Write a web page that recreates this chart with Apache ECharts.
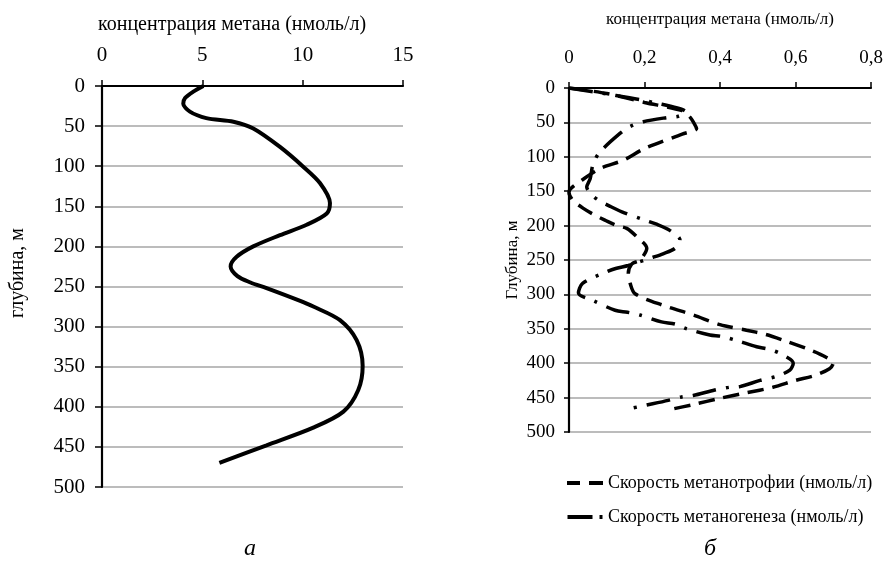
<!DOCTYPE html>
<html>
<head>
<meta charset="utf-8">
<script src="https://cdn.jsdelivr.net/npm/echarts@6/dist/echarts.min.js"></script>
<style>html,body{margin:0;padding:0;background:#fff}#c{width:886px;height:571px}</style>
</head>
<body>
<div id="c"></div>
<script>
// Left panel (а): methane concentration vs depth
const concX     = [5.05, 4.55, 4.14, 4.05, 4.38, 5.2, 6.55, 7.54, 8.87, 10.0, 10.86, 11.36, 11.2, 10.2, 8.87, 7.54, 6.71, 6.41, 6.75, 7.4, 8.2, 9.78, 10.53, 11.86, 12.69, 12.99, 12.77, 12.03, 10.53, 8.2, 5.85];
const concDepth = [0, 7, 15, 22, 32, 40, 44.5, 53, 76, 100, 121, 146, 159, 173, 186, 200, 213, 225, 237, 245, 252, 267, 275, 292, 317, 349, 379, 406, 426, 448, 470];

// Right panel (б): methanotrophy rate (dashed)
const trophX     = [0, 0.1, 0.2, 0.3, 0.32, 0.33, 0.338, 0.3, 0.2, 0.144, 0.082, 0.034, 0.005, 0.0, 0.01, 0.038, 0.069, 0.095, 0.126, 0.153, 0.179, 0.206, 0.188, 0.166, 0.157, 0.162, 0.175, 0.25, 0.33, 0.4, 0.47, 0.52, 0.57, 0.64, 0.68, 0.70, 0.69, 0.65, 0.6, 0.54, 0.47, 0.4, 0.33, 0.27];
const trophDepth = [0, 8, 21, 33, 42, 50, 59, 67, 88, 105, 117, 134, 146, 152, 163, 175, 185, 192, 200, 204, 216, 233, 250, 256, 270, 284, 299, 316, 330, 344, 352, 358, 367, 381, 391, 400, 408, 418, 425, 435, 443, 451, 460, 467];

// Right panel (б): methanogenesis rate (dash-dot)
const genX     = [0, 0.104, 0.232, 0.31, 0.29, 0.259, 0.197, 0.162, 0.135, 0.082, 0.064, 0.056, 0.047, 0.06, 0.078, 0.109, 0.14, 0.2, 0.232, 0.267, 0.294, 0.281, 0.249, 0.223, 0.157, 0.126, 0.1, 0.036, 0.025, 0.064, 0.122, 0.155, 0.188, 0.245, 0.281, 0.312, 0.373, 0.404, 0.444, 0.497, 0.531, 0.559, 0.594, 0.585, 0.55, 0.506, 0.453, 0.425, 0.386, 0.329, 0.298, 0.263, 0.204, 0.17];
const genDepth = [0, 9, 22, 35, 41, 43, 49, 56, 66, 93, 110, 132, 144, 155, 163, 172, 180, 192, 198, 207, 221, 233, 241, 246, 258, 262, 267, 284, 298, 309, 323, 326, 330, 340, 343, 350, 359, 361, 367, 376, 380, 386, 400, 410, 419, 425, 434, 435, 439, 447, 449, 454, 461, 465];

const leftTicksX = [0, 5, 10, 15];
const rightTicksX = [0, 0.2, 0.4, 0.6, 0.8];
const depthTicks = [0, 50, 100, 150, 200, 250, 300, 350, 400, 450, 500];

const FONT = '"Liberation Serif", "Times New Roman", serif';
const pairs = (xs, ys) => xs.map((x, i) => [x, ys[i]]);
const comma = v => (v === 0 ? '0' : v.toFixed(1).replace('.', ','));

const axisLineStyle = { show: true, lineStyle: { color: '#000', width: 2.2 } };
const tickStyle = len => ({ show: true, inside: false, length: len, lineStyle: { color: '#000', width: 1.5 } });

const chart = echarts.init(document.getElementById('c'), null, { renderer: 'canvas' });
chart.setOption({
  backgroundColor: '#fff',
  animation: false,
  grid: [
    { left: 102, top: 86, width: 301, height: 401 },
    { left: 569, top: 88, width: 302, height: 344 }
  ],
  xAxis: [
    { gridIndex: 0, type: 'value', position: 'top',
      min: leftTicksX[0], max: leftTicksX[leftTicksX.length - 1], interval: 5,
      axisLine: axisLineStyle, axisTick: tickStyle(6),
      axisLabel: { fontFamily: FONT, fontSize: 21, color: '#000', margin: 20 },
      splitLine: { show: false } },
    { gridIndex: 1, type: 'value', position: 'top',
      min: rightTicksX[0], max: rightTicksX[rightTicksX.length - 1], interval: 0.2,
      axisLine: axisLineStyle, axisTick: tickStyle(6),
      axisLabel: { fontFamily: FONT, fontSize: 19, color: '#000', margin: 20, formatter: comma },
      splitLine: { show: false } }
  ],
  yAxis: [
    { gridIndex: 0, type: 'value', inverse: true,
      min: depthTicks[0], max: depthTicks[depthTicks.length - 1], interval: 50,
      axisLine: axisLineStyle, axisTick: tickStyle(7),
      axisLabel: { fontFamily: FONT, fontSize: 21, color: '#000', margin: 17 },
      splitLine: { show: true, lineStyle: { color: '#a6a6a6', width: 1.5 } } },
    { gridIndex: 1, type: 'value', inverse: true,
      min: depthTicks[0], max: depthTicks[depthTicks.length - 1], interval: 50,
      axisLine: axisLineStyle, axisTick: tickStyle(5),
      axisLabel: { fontFamily: FONT, fontSize: 19, color: '#000', margin: 14 },
      splitLine: { show: true, lineStyle: { color: '#a6a6a6', width: 1.5 } } }
  ],
  legend: {
    orient: 'vertical', left: 562, top: 469,
    itemWidth: 36, itemHeight: 4, itemGap: 16,
    textStyle: { fontFamily: FONT, fontSize: 18, color: '#000' },
    data: [
      { name: 'Скорость метанотрофии (нмоль/л)', icon: 'path://M0,0h13v4h-13z M22,0h14v4h-14z' },
      { name: 'Скорость метаногенеза (нмоль/л)', icon: 'path://M0,0h25v4h-25z M32,0h3v4h-3z' }
    ]
  },
  series: [
    { name: 'концентрация метана', type: 'line', xAxisIndex: 0, yAxisIndex: 0,
      data: pairs(concX, concDepth), symbol: 'none', smooth: 0.3,
      lineStyle: { color: '#000', width: 4 } },
    { name: 'Скорость метанотрофии (нмоль/л)', type: 'line', xAxisIndex: 1, yAxisIndex: 1,
      data: pairs(trophX, trophDepth), symbol: 'none', smooth: 0.3,
      itemStyle: { color: '#000' },
      lineStyle: { color: '#000', width: 3.5, type: [16, 9] } },
    { name: 'Скорость метаногенеза (нмоль/л)', type: 'line', xAxisIndex: 1, yAxisIndex: 1,
      data: pairs(genX, genDepth), symbol: 'none', smooth: 0.3,
      itemStyle: { color: '#000' },
      lineStyle: { color: '#000', width: 3.5, type: [24, 10, 3, 10] } }
  ],
  graphic: [
    { type: 'text', left: 98, top: 15,
      style: { text: 'концентрация метана (нмоль/л)', font: '20px ' + FONT, fill: '#000' } },
    { type: 'text', left: 606, top: 11,
      style: { text: 'концентрация метана (нмоль/л)', font: '17px ' + FONT, fill: '#000' } },
    { type: 'text', x: 18, y: 273, rotation: Math.PI / 2,
      style: { text: 'глубина, м', font: '20px ' + FONT, fill: '#000', textAlign: 'center', textVerticalAlign: 'middle' } },
    { type: 'text', x: 513, y: 260, rotation: Math.PI / 2,
      style: { text: 'Глубина, м', font: '17px ' + FONT, fill: '#000', textAlign: 'center', textVerticalAlign: 'middle' } },
    { type: 'text', x: 250, y: 549,
      style: { text: 'а', font: 'italic 24px ' + FONT, fill: '#000', textAlign: 'center', textVerticalAlign: 'middle' } },
    { type: 'text', x: 710, y: 549,
      style: { text: 'б', font: 'italic 24px ' + FONT, fill: '#000', textAlign: 'center', textVerticalAlign: 'middle' } }
  ]
});
</script>
</body>
</html>
